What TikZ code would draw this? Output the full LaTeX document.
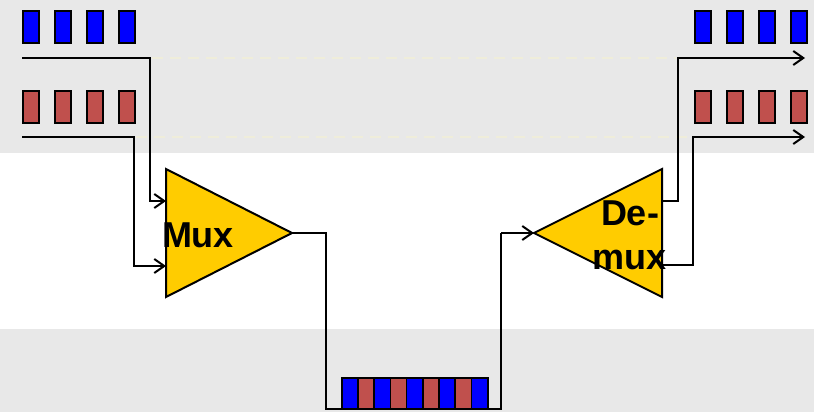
\documentclass[tikz,border=0pt]{standalone}
\usepackage{fontspec}
\setmainfont{Liberation Sans}
\usetikzlibrary{arrows.meta}
\definecolor{bandgray}{HTML}{E8E8E8}
\definecolor{pktblue}{HTML}{0000FF}
\definecolor{pktred}{HTML}{C0504D}
\definecolor{muxyellow}{HTML}{FFCC00}
\definecolor{faintline}{HTML}{EFEDDA}
\begin{document}
\begin{tikzpicture}[x=1pt,y=-1pt,
  wire/.style={line width=2pt},
  arr/.style={wire,-{Straight Barb[length=10pt,width=14pt,line width=2pt]}},
  pkt/.style={draw=black,line width=2pt,minimum width=16pt,minimum height=32pt,inner sep=0pt,anchor=north west},
  bluepkt/.style={pkt,fill=pktblue},
  redpkt/.style={pkt,fill=pktred},
  slot/.style={draw=black,line width=1.5pt,minimum width=16.2pt,minimum height=31pt,inner sep=0pt,anchor=north west},
  amp/.style={draw=black,line width=2pt,fill=muxyellow,line join=miter},
  lbl/.style={font=\bfseries\fontsize{36}{44}\selectfont,inner sep=0pt,align=center},
  guide/.style={draw=faintline,line width=1.5pt,dash pattern=on 11pt off 7pt}]
  \useasboundingbox (0,0) rectangle (814,412);
  % background bands
  \fill[bandgray] (0,0) rectangle (814,153);
  \fill[white] (0,153) rectangle (814,329);
  \fill[bandgray] (0,329) rectangle (814,412);

  % faint guide lines between the two ends
  \draw[guide] (152,58) -- (676,58);
  \draw[guide] (136,137) -- (691,137);

  % input packet queues
  \foreach \i in {0,1,2,3} {
    \node[bluepkt] (inb\i) at (22+32*\i,10) {};
    \node[redpkt]  (inr\i) at (22+32*\i,90) {};
  }
  % output packet queues
  \foreach \i in {0,1,2,3} {
    \node[bluepkt] (outb\i) at (694+32*\i,10) {};
    \node[redpkt]  (outr\i) at (694+32*\i,90) {};
  }

  % multiplexer
  \draw[amp] (166,169) -- (292,233) -- (166,297) -- cycle;
  \coordinate (muxinA) at (166,201);
  \coordinate (muxinB) at (166,266);
  \coordinate (muxout) at (292,233);
  \node[lbl] (muxlabel) at (198,235) {Mux};

  % demultiplexer
  \draw[amp] (662,169) -- (534,233) -- (662,297) -- cycle;
  \coordinate (demuxin) at (534,233);
  \coordinate (demuxoutA) at (662,201);
  \coordinate (demuxoutB) at (662,265);
  \node[lbl] (demuxlabel) at (630,235) {De-\\mux};

  % input wires
  \coordinate (srcA) at (22,58);
  \coordinate (srcB) at (22,137);
  \draw[arr] (srcA) -| (150,201) -- (muxinA);
  \draw[arr] (srcB) -| (134,266) -- (muxinB);

  % shared link with interleaved packets
  \foreach \i in {0,...,8} {
    \pgfmathsetmacro{\col}{mod(\i,2)==0 ? "pktblue" : "pktred"}
    \node[slot,fill=\col] (link\i) at (341+16.2*\i,377) {};
  }
  \node[draw=black,line width=2pt,minimum width=145.8pt,minimum height=31pt,inner sep=0pt,anchor=north west] (linkframe) at (341,377) {};
  \draw[wire] (muxout) -| (326,409) -| (501,233);
  \draw[arr] (501,233) -- (demuxin);

  % output wires
  \coordinate (dstA) at (805,58);
  \coordinate (dstB) at (805,137);
  \draw[arr] (demuxoutA) -| (678,58) -- (dstA);
  \draw[arr] (demuxoutB) -| (693,137) -- (dstB);
\end{tikzpicture}
\end{document}
